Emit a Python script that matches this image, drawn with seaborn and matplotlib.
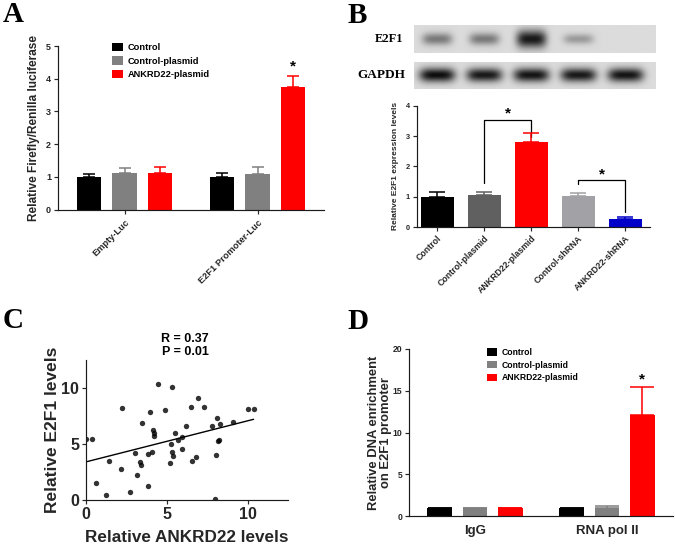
import numpy as np
import pandas as pd
import matplotlib
matplotlib.use("Agg")
import matplotlib.pyplot as plt
import seaborn as sns
from matplotlib.patches import Patch

# ---- panel A: luciferase reporter ----
a_groups = ["Empty-Luc", "E2F1 Promoter-Luc"]
a_conditions = ["Control", "Control-plasmid", "ANKRD22-plasmid"]
a_means = [1.01, 1.13, 1.13, 1.00, 1.08, 3.74]
a_errs = [0.07, 0.13, 0.17, 0.12, 0.21, 0.35]

# ---- panel B: western blot quantification ----
b_labels = ["Control", "Control-plasmid", "ANKRD22-plasmid", "Control-shRNA", "ANKRD22-shRNA"]
b_means = [1.00, 1.05, 2.81, 1.01, 0.25]
b_errs = [0.16, 0.09, 0.30, 0.11, 0.07]
b_e2f1_band = [0.45, 0.45, 0.90, 0.30, 0.0]
b_gapdh_band = [0.95, 0.90, 0.92, 0.90, 0.92]
# (left bar, right bar, left foot, top, right foot)
b_brackets = [(1, 2, 1.46, 3.53, 2.96), (3, 4, 1.41, 1.54, 0.48)]

# ---- panel C: correlation ----
c_ankrd22 = [0.02, 0.39, 0.61, 1.23, 1.45, 2.21, 2.19, 2.73, 3.01, 3.18, 3.36, 3.38,
             3.44, 3.81, 3.81, 3.95, 4.08, 4.12, 4.18, 4.22, 4.45, 4.86, 5.31, 5.27,
             5.31, 5.41, 5.18, 5.49, 5.72, 5.92, 5.96, 6.17, 6.50, 6.58, 6.82, 6.90,
             7.32, 7.77, 8.05, 8.09, 7.99, 8.18, 8.24, 8.30, 9.08, 10.02, 10.37]
c_e2f1 = [5.40, 5.46, 1.49, 0.42, 3.49, 8.24, 2.75, 0.66, 4.18, 2.24, 3.34, 3.07,
          6.87, 1.25, 4.12, 7.82, 4.24, 6.24, 5.97, 5.73, 10.39, 8.06, 10.06, 4.96,
          4.24, 3.91, 3.25, 6.00, 5.31, 5.58, 4.51, 6.57, 8.33, 3.43, 3.85, 9.13,
          8.27, 6.63, 4.00, 7.34, 0.06, 5.28, 5.34, 6.78, 6.96, 8.09, 8.15]

# ---- panel D: ChIP ----
d_groups = ["IgG", "RNA pol II"]
d_means = [1.00, 0.95, 1.00, 1.00, 0.95, 12.15]
d_errs = [0.05, 0.05, 0.04, 0.05, 0.25, 3.25]

ad_colors = ["#000000", "#808080", "#ff0000"]
b_colors = ["#000000", "#606060", "#ff0000", "#a2a2a6", "#0000c8"]

W, H = 675, 545
sns.set_theme(style="ticks")
plt.rcParams["font.family"] = ["Liberation Sans", "DejaVu Sans"]
plt.rcParams["font.weight"] = "bold"
plt.rcParams["axes.labelweight"] = "bold"
plt.rcParams["axes.linewidth"] = 0.85
plt.rcParams["xtick.major.width"] = 0.85
plt.rcParams["ytick.major.width"] = 0.85
plt.rcParams["xtick.major.size"] = 3
plt.rcParams["ytick.major.size"] = 3
plt.rcParams["xtick.major.pad"] = 2
plt.rcParams["ytick.major.pad"] = 2
plt.rcParams["text.color"] = "black"
plt.rcParams["axes.edgecolor"] = "#1a1a1a"

fig = plt.figure(figsize=(W / 100, H / 100), dpi=100)


def px_axes(left, top, right, bottom):
    return fig.add_axes([left / W, 1 - bottom / H, (right - left) / W, (bottom - top) / H])


def sorted_bars(ax):
    return sorted(ax.patches, key=lambda p: p.get_x())


def add_errors(ax, errs, capsize):
    for p, e in zip(sorted_bars(ax), errs):
        xc = p.get_x() + p.get_width() / 2
        ax.errorbar(xc, p.get_height(), yerr=[[0], [e]], fmt="none",
                    ecolor=p.get_facecolor(), elinewidth=1.1, capsize=capsize,
                    capthick=1.1, zorder=3)


def star(ax, bar, top, off, size=11):
    xc = bar.get_x() + bar.get_width() / 2
    ax.annotate("*", xy=(xc, top), xytext=(0, off), textcoords="offset points",
                ha="center", va="center", fontsize=size, fontweight="bold")


def panel_letter(x, y, s):
    fig.text(x / W, 1 - y / H, s, fontsize=21, fontweight="bold",
             family="Liberation Serif", va="baseline", ha="left")


def grouped(ax, groups, conds, means):
    df = pd.DataFrame({
        "group": np.repeat(groups, len(conds)),
        "condition": conds * len(groups),
        "value": means,
    })
    sns.barplot(data=df, x="group", y="value", hue="condition", hue_order=conds,
                palette=ad_colors, saturation=1, gap=0.3, errorbar=None,
                linewidth=0, legend=False, ax=ax)


def legend(ax, x, y, fs):
    handles = [Patch(facecolor=c, edgecolor="none", label=l) for c, l in zip(ad_colors, a_conditions)]
    ax.legend(handles=handles, loc="upper left", bbox_to_anchor=(x, y), frameon=False,
              fontsize=fs, handlelength=1.2, handleheight=1.0, handletextpad=0.5,
              labelspacing=0.45, borderpad=0, borderaxespad=0)


# ================= A =================
axA = px_axes(58, 46, 324, 209.7)
grouped(axA, a_groups, a_conditions, a_means)
add_errors(axA, a_errs, 4.3)
axA.set_ylim(0, 5)
axA.set_xlim(-0.5, 1.5)
axA.set_yticks(range(6))
axA.set_xlabel("")
axA.set_ylabel("Relative Firefly/Renilla luciferase", fontsize=8.6, labelpad=4)
axA.tick_params(axis="y", labelsize=6.5)
axA.tick_params(axis="x", labelsize=6.7, pad=3)
plt.setp(axA.get_xticklabels(), rotation=45, ha="right", rotation_mode="anchor")
sns.despine(ax=axA)
legend(axA, 0.203, 1.02, 6.7)
barsA = sorted_bars(axA)
star(axA, barsA[5], a_means[5] + a_errs[5], 6.5)
panel_letter(3, 22, "A")

# ================= B =================
axB = px_axes(417, 105.7, 650, 227)
sns.barplot(x=b_labels, y=b_means, hue=b_labels, palette=b_colors, saturation=1,
            width=0.7, errorbar=None, linewidth=0, legend=False, ax=axB)
add_errors(axB, b_errs, 6)
axB.set_ylim(0, 4)
axB.set_xlim(-0.43, 4.53)
axB.set_yticks(range(5))
axB.set_ylabel("Relative E2F1 expression levels", fontsize=6, labelpad=5)
axB.tick_params(axis="y", labelsize=5.3)
axB.tick_params(axis="x", labelsize=6.3)
plt.setp(axB.get_xticklabels(), rotation=45, ha="right", rotation_mode="anchor")
sns.despine(ax=axB)
barsB = sorted_bars(axB)
for i, j, yl, yt, yr in b_brackets:
    xl = barsB[i].get_x() + barsB[i].get_width() / 2
    xr = barsB[j].get_x() + barsB[j].get_width() / 2
    axB.plot([xl, xl, xr, xr], [yl, yt, yt, yr], color="black", lw=0.9, clip_on=False)
    axB.annotate("*", xy=((xl + xr) / 2, yt), xytext=(0, 4.5), textcoords="offset points",
                 ha="center", va="center", fontsize=11, fontweight="bold")


def blot(top, bottom, bands, half_w, hmin, hgain):
    bx = px_axes(414, top, 655, bottom)
    x0, x1 = -0.49, 4.64
    xs = np.linspace(x0, x1, 500)
    ys = np.linspace(0, 1, 80)
    X, Y = np.meshgrid(xs, ys)
    dark = np.zeros_like(X)
    for lane, inten in enumerate(bands):
        h = hmin + hgain * inten
        dark += inten * np.exp(-np.abs((X - lane) / half_w) ** 4) * np.exp(-((Y - 0.5) / h) ** 2)
    img = np.clip(0.86 - 0.85 * dark, 0, 1)
    bx.imshow(img, cmap="gray", vmin=0, vmax=1, extent=(x0, x1, 0, 1), aspect="auto")
    bx.set_axis_off()


blot(25, 52.7, b_e2f1_band, 0.32, 0.12, 0.22)
blot(61.7, 89, b_gapdh_band, 0.38, 0.12, 0.14)
fig.text(389 / W, 1 - 39 / H, "E2F1", family="Liberation Serif", fontsize=9,
         fontweight="bold", ha="center", va="center")
fig.text(381 / W, 1 - 75 / H, "GAPDH", family="Liberation Serif", fontsize=9.5,
         fontweight="bold", ha="center", va="center")
panel_letter(348, 23, "B")

# ================= C =================
axC = px_axes(86, 360, 288, 499.7)
sns.regplot(x=c_ankrd22, y=c_e2f1, ci=None, ax=axC,
            scatter_kws=dict(s=15, color="black", linewidths=0),
            line_kws=dict(color="black", lw=1.0))
axC.set_xlim(0, 12.5)
axC.set_ylim(0, 12.5)
axC.set_xticks([0, 5, 10])
axC.set_yticks([0, 5, 10])
axC.tick_params(labelsize=11.5)
axC.set_xlabel("Relative ANKRD22 levels", fontsize=12.3, labelpad=6)
axC.set_ylabel("Relative E2F1 levels", fontsize=12.5, labelpad=0.5)
sns.despine(ax=axC)
axC.text(0.49, 1.105, "R = 0.37\nP = 0.01", transform=axC.transAxes, ha="center",
         va="center", fontsize=9, fontweight="bold", linespacing=1.1)
panel_letter(3, 328, "C")

# ================= D =================
axD = px_axes(409, 349, 673, 516.3)
grouped(axD, d_groups, a_conditions, d_means)
add_errors(axD, d_errs, 8.5)
axD.set_ylim(0, 20)
axD.set_xlim(-0.5, 1.5)
axD.set_yticks(range(0, 21, 5))
axD.set_xlabel("")
axD.set_ylabel("Relative DNA enrichment\non E2F1 promoter", fontsize=9.4, labelpad=0.5,
               linespacing=1.0)
axD.tick_params(axis="y", labelsize=6.2)
axD.tick_params(axis="x", labelsize=9.5, length=0, pad=6)
sns.despine(ax=axD)
legend(axD, 0.295, 1.008, 6.2)
barsD = sorted_bars(axD)
star(axD, barsD[5], d_means[5] + d_errs[5], 6)
panel_letter(347, 329, "D")

fig.savefig("out.png", dpi=100)
